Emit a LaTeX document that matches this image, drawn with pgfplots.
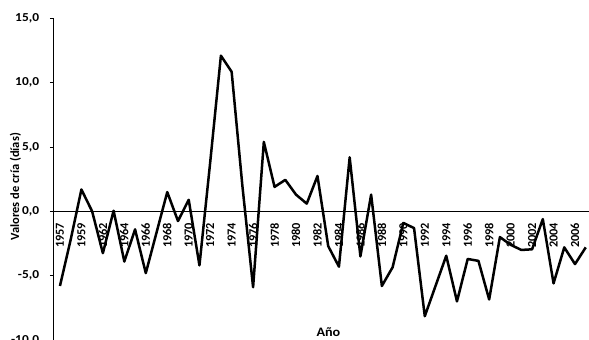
\documentclass[border=0pt]{standalone}
\usepackage{pgfplots}
\pgfplotsset{compat=1.18}
\usepackage{fontspec}
\setmainfont{Carlito}
\newfontfamily\widefont[FakeStretch=1.1]{Carlito}
\begin{document}
\begin{tikzpicture}
\begin{axis}[
  scale only axis,
  width=537.8pt, height=321.6pt,
  xmin=-0.62, xmax=49.5,
  ymin=-10, ymax=15,
  axis x line=middle,
  axis y line=left,
  axis line style={-},
  x axis line style={line width=0.8pt},
  y axis line style={line width=0.9pt},
  xtick={0,2,...,48},
  xticklabels={1957,1959,1962,1964,1966,1968,1970,1972,1974,1976,1978,1980,1982,1984,1986,1988,1990,1992,1994,1996,1998,2000,2002,2004,2006},
  xtick style={draw=none},
  ytick={-10,-5,0,5,10,15},
  ytick style={line width=0.9pt, black},
  tick align=outside,
  major tick length=3.5pt,
  xticklabel style={font=\fontsize{12.3}{14}\selectfont\bfseries, yshift=-8pt, rotate=90, anchor=east, inner sep=0pt},
  yticklabel style={font=\widefont\fontsize{12.2}{14}\selectfont\bfseries, anchor=east, inner sep=0pt, xshift=-10.5pt},
  /pgf/number format/.cd, fixed, fixed zerofill, precision=1, use comma, assume math mode=true,
  /pgfplots/.cd,
  xlabel={Año},
  ylabel={Valores de cría (días)},
  xlabel style={at={(rel axis cs:0.5116,0.025)}, anchor=center, font=\widefont\fontsize{12.9}{15}\selectfont\bfseries},
  ylabel style={at={(rel axis cs:-0.0705,0.4766)}, anchor=center, font=\fontsize{12.5}{15}\selectfont\bfseries},
  clip=false,
]
\addplot[black, line width=2.5pt, line join=round, mark=none] coordinates {
(0,-5.8) (1,-2.2) (2,1.7) (3,0.0) (4,-3.25) (5,0.05) (6,-3.9) (7,-1.4) (8,-4.8) (9,-1.65)
(10,1.5) (11,-0.75) (12,0.9) (13,-4.2) (14,3.8) (15,12.1) (16,10.85) (17,2.0) (18,-5.9) (19,5.4)
(20,1.9) (21,2.45) (22,1.3) (23,0.6) (24,2.75) (25,-2.7) (26,-4.3) (27,4.2) (28,-3.5) (29,1.3)
(30,-5.8) (31,-4.35) (32,-0.9) (33,-1.3) (34,-8.15) (35,-5.8) (36,-3.45) (37,-7.0) (38,-3.7) (39,-3.85)
(40,-6.85) (41,-2.0) (42,-2.6) (43,-3.0) (44,-2.95) (45,-0.6) (46,-5.6) (47,-2.8) (48,-4.1) (49,-2.8)
};
\coordinate (tl) at (rel axis cs:0,1);
\coordinate (br) at (rel axis cs:1,0);
\end{axis}
\pgfresetboundingbox
\useasboundingbox ([xshift=-53.3pt,yshift=18.4pt]tl) rectangle ([xshift=-2.1pt]br);
\end{tikzpicture}
\end{document}
